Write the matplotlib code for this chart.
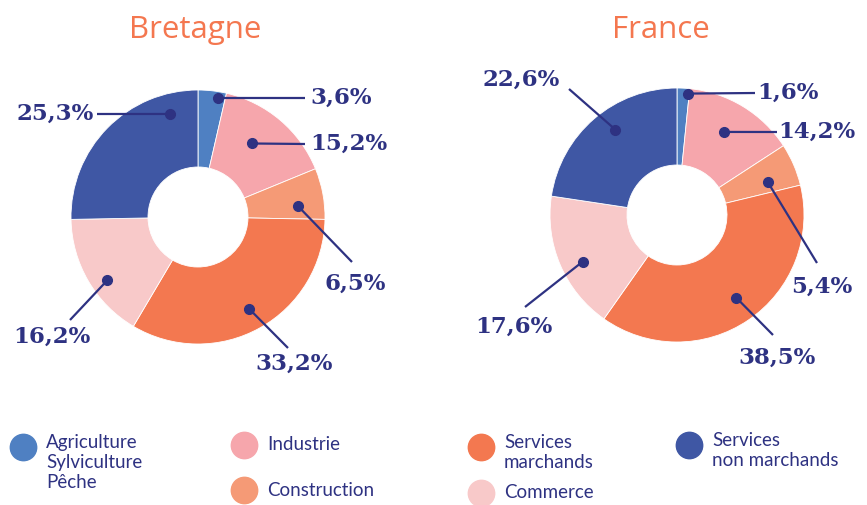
import matplotlib.pyplot as plt
import numpy as np

# data
categories = ['Agriculture\nSylviculture\nPêche', 'Industrie', 'Construction',
              'Services\nmarchands', 'Commerce', 'Services\nnon marchands']
bretagne = [3.6, 15.2, 6.5, 33.2, 16.2, 25.3]
france = [1.6, 14.2, 5.4, 38.5, 17.6, 22.6]
bretagne_labels = ['3,6%', '15,2%', '6,5%', '33,2%', '16,2%', '25,3%']
france_labels = ['1,6%', '14,2%', '5,4%', '38,5%', '17,6%', '22,6%']

colors = ['#4f80c2', '#f6a6ac', '#f59a76', '#f37850', '#f8c9c9', '#3f57a4']
navy = '#2e3282'
orange = '#f4774f'

W, H = 867, 505
fig = plt.figure(figsize=(W / 100, H / 100), dpi=100)

# overlay axes in pixel coordinates, for labels and legend
ov = fig.add_axes([0, 0, 1, 1], zorder=5)
ov.set_xlim(0, W)
ov.set_ylim(H, 0)
ov.axis('off')

R_OUT, R_IN = 127, 50

# per donut: centre, title pos, dot placement (fraction along wedge, radius frac),
# leader line end, text pos and alignment
layouts = {
    'Bretagne': dict(
        center=(198, 217), title=(195, 30),
        dots=[(0.73, 0.95), (0.43, 0.72), (0.68, 0.79), (0.50, 0.83), (0.42, 0.87), (0.835, 0.84)],
        ends=[(305, 98), (305, 144), (352, 262), (288, 348), (70, 320), (97, 114)],
        texts=[(310, 98, 'left'), (310, 144, 'left'), (355, 284, 'center'),
               (294, 364, 'center'), (52, 337, 'center'), (94, 114, 'right')]),
    'France': dict(
        center=(677, 215), title=(661, 30),
        dots=[(0.90, 0.96), (0.46, 0.75), (0.67, 0.76), (0.49, 0.80), (0.45, 0.83), (0.56, 0.83)],
        ends=[(755, 93), (777, 132), (817, 263), (773, 335), (525, 307), (569, 89)],
        texts=[(757, 93, 'left'), (778, 132, 'left'), (822, 287, 'center'),
               (777, 358, 'center'), (514, 327, 'center'), (521, 80, 'center')]),
}

for name, values, labels in [('Bretagne', bretagne, bretagne_labels),
                             ('France', france, france_labels)]:
    lay = layouts[name]
    cx, cy = lay['center']
    ax = fig.add_axes([(cx - R_OUT) / W, (H - cy - R_OUT) / H, 2 * R_OUT / W, 2 * R_OUT / H])
    wedges, _ = ax.pie(values, colors=colors, startangle=90, counterclock=False,
                       radius=1, wedgeprops=dict(width=1 - R_IN / R_OUT,
                                                 edgecolor='white', linewidth=0.6))
    ax.set_xlim(-1, 1)
    ax.set_ylim(-1, 1)
    ax.axis('off')

    ov.text(*lay['title'], name, color=orange, fontsize=22.5, family='Open Sans',
            ha='center', va='center')

    for w, lab, (t, rf), (ex, ey), (tx, ty, ha) in zip(wedges, labels, lay['dots'],
                                                     lay['ends'], lay['texts']):
        # wedge goes clockwise: theta2 is the start
        ang = np.deg2rad(w.theta2 - t * (w.theta2 - w.theta1))
        dx = cx + rf * R_OUT * np.cos(ang)
        dy = cy - rf * R_OUT * np.sin(ang)
        ov.plot([dx, ex], [dy, ey], color=navy, lw=1.6, solid_capstyle='butt')
        ov.plot(dx, dy, 'o', color=navy, ms=7)
        ov.text(tx, ty, lab, color=navy, fontsize=16.5, family='DejaVu Serif',
                fontweight='bold', ha=ha, va='center')

# legend
leg_pos = [(23, 447), (244, 445), (244, 490), (481, 447), (481, 493), (689, 445)]
for (lx, ly), col, cat in zip(leg_pos, colors, categories):
    ov.plot(lx, ly, 'o', color=col, ms=19, clip_on=False)
    n = cat.count('\n')
    ov.text(lx + 23, ly - 13 if n else ly, cat, color=navy, fontsize=13.5, family='Lato',
            ha='left', va='top' if n else 'center', linespacing=1.22)

fig.savefig('out.png', dpi=100)
